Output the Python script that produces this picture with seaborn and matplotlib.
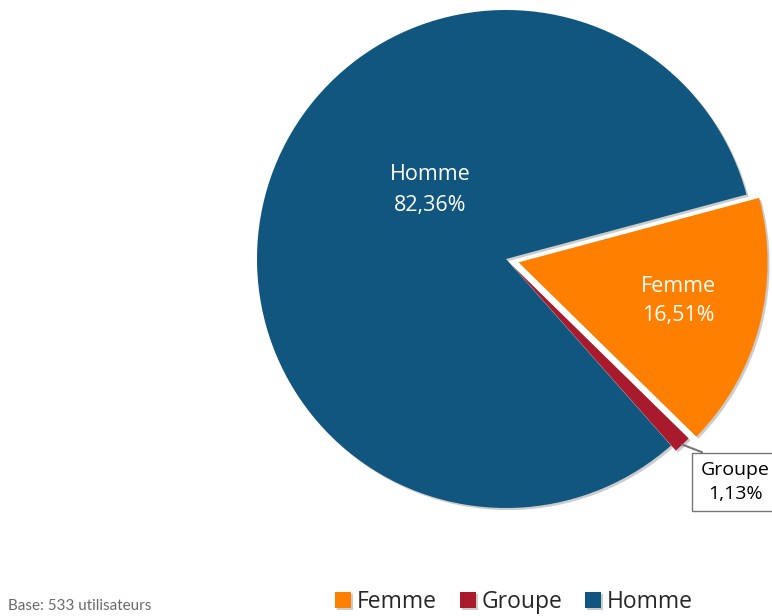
import numpy as np
import matplotlib.pyplot as plt
import matplotlib.patheffects as pe
import seaborn as sns

labels = ['Femme', 'Groupe', 'Homme']
shares = [16.51, 1.13, 82.36]
share_text = ['16,51%', '1,13%', '82,36%']
colors = ['#FF8000', '#A91B2C', '#11567F']
base_note = 'Base: 533 utilisateurs'

sns.set_theme(style='white')
plt.rcParams['font.family'] = ['Open Sans', 'DejaVu Sans']

fig = plt.figure(figsize=(7.72, 6.16), dpi=100)
ax = fig.add_axes([0, 0, 1, 1])

# pie drawn in pixel-like data units so it lands where the original sits
cx, cy, r = 506, 357, 249
wedges, _ = ax.pie(shares, colors=colors, startangle=15, counterclock=False,
                   explode=[13, 7, 0], radius=r, center=(cx, cy),
                   wedgeprops=dict(linewidth=0))
shadow = [pe.SimplePatchShadow(offset=(1.5, -1.5), shadow_rgbFace='#9a9a9a', alpha=0.5), pe.Normal()]
for w in wedges:
    w.set_path_effects(shadow)

ax.set_xlim(0, 772)
ax.set_ylim(0, 616)
ax.set_aspect('equal')
ax.axis('off')

# in-slice labels
ax.text(430, 426, labels[2] + '\n' + share_text[2], color='white', fontsize=15.5,
        ha='center', va='center', linespacing=1.6)
ax.text(678, 315, labels[0] + '\n' + share_text[0], color='white', fontsize=15.5,
        ha='center', va='center', linespacing=1.55)

# callout for the thin slice
g = wedges[1]
mid = np.deg2rad((g.theta1 + g.theta2) / 2)
tip = (g.center[0] + g.r * np.cos(mid), g.center[1] + g.r * np.sin(mid))
ax.annotate(labels[1] + '\n' + share_text[1], xy=tip, xytext=(735, 134),
            fontsize=14, ha='center', va='center', linespacing=1.45,
            color='black',
            bbox=dict(boxstyle='square,pad=0.42', fc='white', ec='#777777', lw=1),
            arrowprops=dict(arrowstyle='-', color='#777777', lw=1.5,
                            shrinkA=0, shrinkB=0, relpos=(0.35, 1)))

fig.legend(wedges, labels, loc='center', bbox_to_anchor=(514 / 772, 1 - 602 / 616),
           ncol=3, frameon=False, fontsize=16.5, handlelength=0.7, handleheight=0.7,
           handletextpad=0.25, columnspacing=1.0)

fig.text(8 / 772, 1 - 606 / 616, base_note, color='#6a6a6a', fontsize=11,
         ha='left', va='center', family=['Lato', 'DejaVu Sans'])

fig.savefig('out.png', dpi=100)
